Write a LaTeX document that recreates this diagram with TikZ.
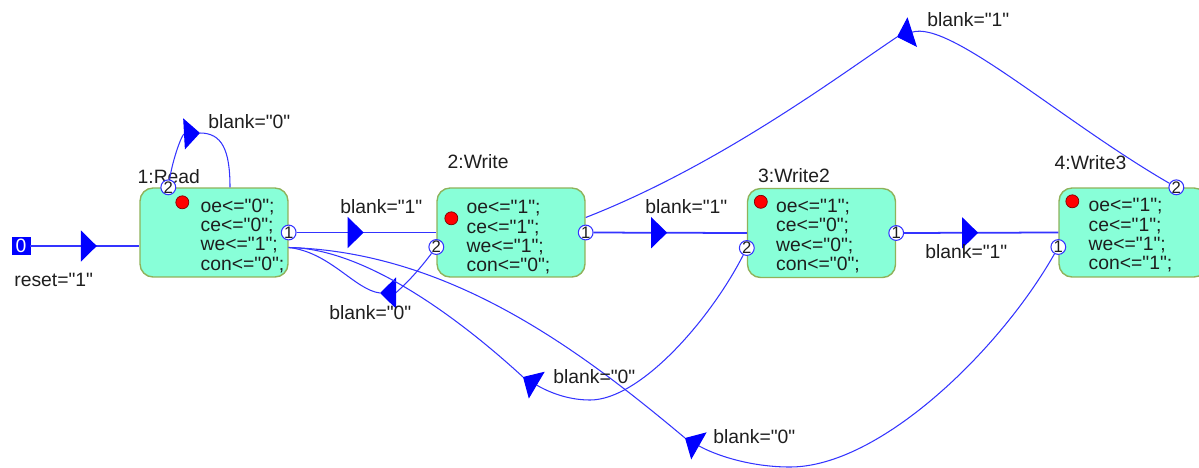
\documentclass[tikz,border=0pt]{standalone}
\usepackage{fontspec}
\setmainfont{Liberation Sans}[Ligatures=TeXOff]
\usetikzlibrary{arrows.meta, positioning, calc, decorations.markings}
\definecolor{c1}{HTML}{1E1E1E}
\definecolor{c2}{HTML}{3434FF}
\definecolor{c3}{HTML}{0000FF}
\definecolor{statefill}{HTML}{88FFD8}
\definecolor{stateline}{HTML}{8FB25A}
\definecolor{dotred}{HTML}{FF0000}

\begin{document}
\begin{tikzpicture}[
    x=0.02cm, y=-0.02cm,
    every node/.style={font=\fontsize{11}{11}\selectfont, text=c1},
    state/.style={draw=stateline, line width=0.8pt, fill=statefill, rounded corners=0.26cm,
        minimum width=2.96cm, minimum height=1.78cm},
    acts/.style={align=left, inner sep=0pt, anchor=north west},
    tag/.style={inner sep=0pt, anchor=west},
    port/.style={circle, draw=c2, fill=white, line width=0.6pt, inner sep=0pt,
        minimum size=0.28cm, font=\fontsize{9.5}{9.5}\selectfont},
    dot/.style={circle, draw=red!50!black, fill=dotred, line width=0.4pt, inner sep=0pt, minimum size=0.26cm},
    rst/.style={draw=c3, fill=c3, text=white, inner sep=0pt, minimum width=0.36cm, minimum height=0.34cm},
    trans/.style={c2, line width=1pt},
    retline/.style={c2, line width=0.6pt},
    headed/.style={-{Triangle[length=0.32cm, width=0.62cm, color=c3]}},
    tri/.style={postaction={decorate, decoration={markings,
        mark=at position #1 with {\arrow{Triangle[length=0.32cm, width=0.62cm, color=c3]}}}}},
]
\useasboundingbox (0,0) rectangle (1199,467);

% states
\node[state] (rd) at (214,232.5) {};
\node[state] (wr) at (511,232.5) {};
\node[state] (w2) at (821.5,233) {};
\node[state] (w3) at (1133,232.5) {};

\node[tag] (rd-n) at ([shift={(-2,-11)}]rd.north west) {1:Read};
\node[tag] (wr-n) at ([shift={(11,-26)}]wr.north west) {2:Write};
\node[tag] (w2-n) at ([shift={(11,-12)}]w2.north west) {3:Write2};
\node[tag] (w3-n) at ([shift={(-4,-25)}]w3.north west) {4:Write3};

% outputs of each state
\node[acts] (rd-a) at ([shift={(61,11)}]rd.north west) {oe<="0";\\ce<="0";\\we<="1";\\con<="0";};
\node[acts] (wr-a) at ([shift={(30,13)}]wr.north west) {oe<="1";\\ce<="1";\\we<="1";\\con<="0";};
\node[acts] (w2-a) at ([shift={(29,11)}]w2.north west) {oe<="1";\\ce<="0";\\we<="0";\\con<="0";};
\node[acts] (w3-a) at ([shift={(30,11)}]w3.north west) {oe<="1";\\ce<="1";\\we<="1";\\con<="1";};

\node[dot] (rd-d) at ([shift={(43,15)}]rd.north west) {};
\node[dot] (wr-d) at ([shift={(15,31)}]wr.north west) {};
\node[dot] (w2-d) at ([shift={(14,14)}]w2.north west) {};
\node[dot] (w3-d) at ([shift={(14,14)}]w3.north west) {};

% ports
\node[port] (rd-p1) at (rd.east) {1};
\node[port] (rd-p2) at ([shift={(29,0)}]rd.north west) {2};
\node[port] (wr-p1) at (wr.east) {1};
\node[port] (wr-p2) at ([shift={(0,14.5)}]wr.west) {2};
\node[port] (w2-p1) at (w2.east) {1};
\node[port] (w2-p2) at ([shift={(0,15)}]w2.west) {2};
\node[port] (w3-p1) at ([shift={(0,14.5)}]w3.west) {1};
\node[port] (w3-p2) at ([shift={(118,0)}]w3.north west) {2};

\node[rst] (rst) at (21,246) {0};

\coordinate (rd-in) at ([shift={(16,0)}]rd.north);
\coordinate (rd-e) at ([shift={(0,15)}]rd.east);
\coordinate (wr-ne) at ([shift={(0,-15)}]wr.east);

% where the arrow heads of the curved transitions sit
\coordinate (m11) at (200,133);
\coordinate (m21) at (380,293);
\coordinate (m31) at (523,377);
\coordinate (m41) at (685,438);
\coordinate (m42) at (897,37);

% transitions
\draw[trans, tri=0.61] (rst) -- (rst -| rd.west);
\draw[trans, tri=0.48] (rd-p1) -- (wr.west);
\draw[trans, tri=0.48] (wr-p1) -- (w2.west);
\draw[trans, tri=0.48] (w2-p1) -- (w3.west);

\draw[retline, headed] (rd-p2) .. controls (173,158) and (182,134) .. (m11);
\draw[retline] (m11) .. controls (222,133) and (230,150) .. (rd-in);

\draw[retline, headed] (wr-p2) .. controls (410,282) and (395,293) .. (m21);
\draw[retline] (m21) .. controls (355,290) and (330,252) .. (rd-e);

\draw[retline, headed] (w2-p2) .. controls (710,320) and (640,400) .. (590,400)
    .. controls (565,400) and (545,390) .. (m31);
\draw[retline] (m31) .. controls (450,310) and (360,248) .. (rd-e);

\draw[retline, headed] (w3-p1) .. controls (1000,350) and (880,467) .. (790,467)
    .. controls (750,467) and (715,455) .. (m41);
\draw[retline] (m41) .. controls (580,350) and (450,252) .. (rd-e);

\draw[retline, headed] (w3-p2) .. controls (1060,120) and (950,20) .. (m42);
\draw[retline] (m42) .. controls (840,75) and (720,165) .. (wr-ne);

% conditions
\node[tag] (l-rst) at (14,280) {reset="1"};
\node[tag] (l-loop) at (208,122) {blank="0"};
\node[tag] (l-12) at (340,207) {blank="1"};
\node[tag] (l-21) at (329,313) {blank="0"};
\node[tag] (l-23) at (645,207) {blank="1"};
\node[tag] (l-34) at (925,252) {blank="1"};
\node[tag] (l-42) at (927,20) {blank="1"};
\node[tag] (l-31) at (553,377) {blank="0"};
\node[tag] (l-41) at (713,437) {blank="0"};
\end{tikzpicture}
\end{document}
